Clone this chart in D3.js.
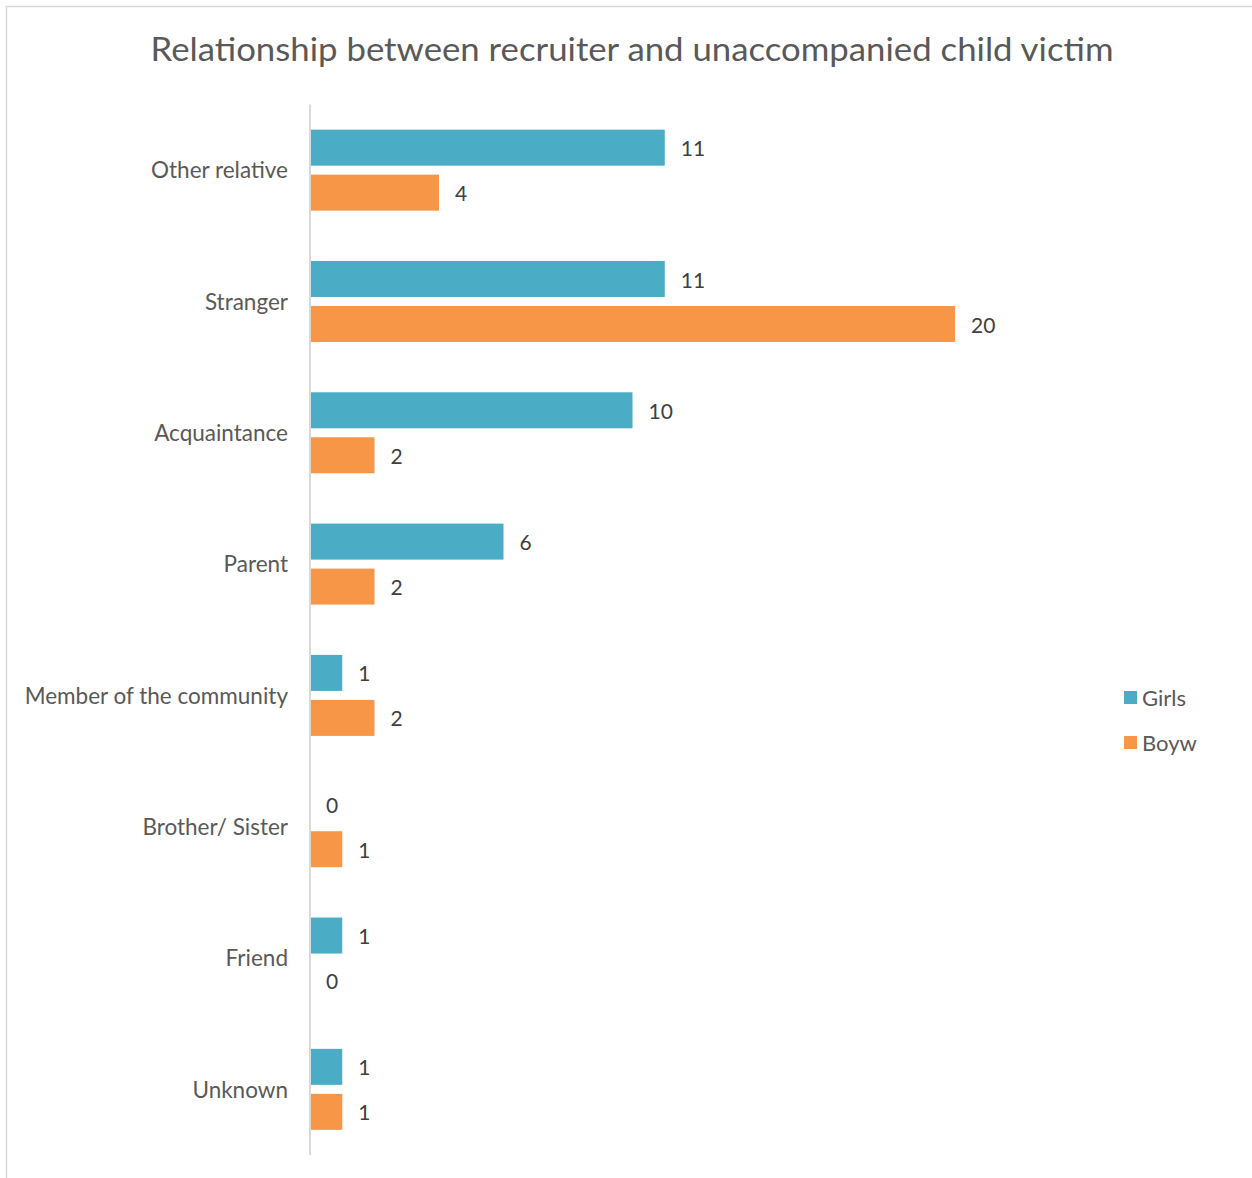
<!DOCTYPE html>
<html>
<head>
<meta charset="utf-8">
<script src="https://cdn.jsdelivr.net/npm/d3@7"></script>
<style>
  body { margin: 0; background: #fff; }
  text { font-family: Lato, "Open Sans", sans-serif; }
</style>
</head>
<body>
<div id="chart"></div>
<script>
const categories = ["Other relative", "Stranger", "Acquaintance", "Parent",
  "Member of the community", "Brother/ Sister", "Friend", "Unknown"];
const girls = [11, 11, 10, 6, 1, 0, 1, 1];
const boys = [4, 20, 2, 2, 2, 1, 0, 1];
const seriesNames = ["Girls", "Boyw"];
const colors = ["#4bacc6", "#f79646"];

const width = 1252, height = 1178;

var svg = d3.select("#chart").append("svg")
    .attr("width", width)
    .attr("height", height);

// frame (only top and left visible in the crop)
svg.append("path")
    .attr("d", "M6.5," + height + "V6.5H" + width)
    .attr("fill", "none")
    .attr("stroke", "#d9d9d9")
    .attr("stroke-width", 1.5);

svg.append("text")
    .attr("x", 632)
    .attr("y", 61)
    .attr("text-anchor", "middle")
    .attr("textLength", 963)
    .attr("lengthAdjust", "spacingAndGlyphs")
    .style("font-size", "33px")
    .style("fill", "#595959")
    .text("Relationship between recruiter and unaccompanied child victim");

var x = d3.scaleLinear()
    .domain([0, 20])
    .range([310, 955]);

var y = d3.scaleBand()
    .domain(categories)
    .range([104.5, 1155]);

var inner = d3.scaleBand()
    .domain(seriesNames)
    .range([0, 81])
    .paddingInner(0.2);

var off = (y.bandwidth() - 81) / 2;

var rows = categories.map(function(c, i) {
  return { cat: c, vals: [girls[i], boys[i]] };
});

var g = svg.selectAll("g.row")
    .data(rows)
    .enter().append("g")
    .attr("class", "row")
    .attr("transform", function(d) { return "translate(0," + (y(d.cat) + off) + ")"; });

g.selectAll("rect")
    .data(function(d) { return d.vals.map(function(v, j) { return { v: v, j: j }; }); })
    .enter().append("rect")
    .attr("x", x(0))
    .attr("y", function(d) { return inner(seriesNames[d.j]); })
    .attr("width", function(d) { return x(d.v) - x(0); })
    .attr("height", inner.bandwidth())
    .attr("fill", function(d) { return colors[d.j]; });

g.selectAll("text.val")
    .data(function(d) { return d.vals.map(function(v, j) { return { v: v, j: j }; }); })
    .enter().append("text")
    .attr("class", "val")
    .attr("x", function(d) { return x(d.v) + 16; })
    .attr("y", function(d) { return inner(seriesNames[d.j]) + inner.bandwidth() / 2 + 1; })
    .attr("dy", "0.36em")
    .style("font-size", "21px")
    .style("fill", "#404040")
    .text(function(d) { return d.v; });

// category labels
var yAxis = svg.append("g")
    .attr("transform", "translate(310,1)")
    .call(d3.axisLeft(y).tickSize(0).tickPadding(22));
yAxis.select(".domain").remove();
yAxis.selectAll("text")
    .style("font-family", "Lato, 'Open Sans', sans-serif")
    .style("font-size", "22.5px")
    .style("fill", "#595959");

svg.append("line")
    .attr("x1", 310).attr("x2", 310)
    .attr("y1", 104.5).attr("y2", 1155)
    .attr("stroke", "#d9d9d9")
    .attr("stroke-width", 2);

// legend
var legend = svg.selectAll("g.legend")
    .data(seriesNames)
    .enter().append("g")
    .attr("class", "legend")
    .attr("transform", function(d, i) { return "translate(1124," + (691 + i * 45) + ")"; });

legend.append("rect")
    .attr("width", 13)
    .attr("height", 13)
    .attr("fill", function(d, i) { return colors[i]; });

legend.append("text")
    .attr("x", 18)
    .attr("y", 7)
    .attr("dy", "0.36em")
    .style("font-size", "22px")
    .style("fill", "#595959")
    .text(function(d) { return d; });
</script>
</body>
</html>
